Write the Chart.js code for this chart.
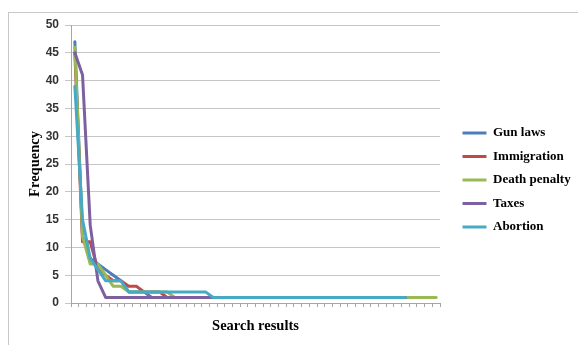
<!DOCTYPE html>
<html>
<head>
<meta charset="utf-8">
<script src="https://cdn.jsdelivr.net/npm/chart.js@4.4.0/dist/chart.umd.min.js"></script>
<style>
  html, body { margin: 0; padding: 0; background: #fff; overflow: hidden; }
  #wrap { position: relative; width: 578px; height: 345px; }
  #frame { position: absolute; left: 8px; top: 12px; width: 620px; height: 400px; border: 1px solid #c8c8c8; }
  canvas { position: absolute; left: 0; top: 0; }
</style>
</head>
<body>
<div id="wrap">
  <div id="frame"></div>
  <canvas id="chart" width="578" height="345"></canvas>
</div>
<script>
// search result rank (1..48), labels are not shown on the axis
const categories = [
  '1','2','3','4','5','6','7','8','9','10',
  '11','12','13','14','15','16','17','18','19','20',
  '21','22','23','24','25','26','27','28','29','30',
  '31','32','33','34','35','36','37','38','39','40',
  '41','42','43','44','45','46','47','48'
];

const gunLaws = [47, 12, 8, 7, 6, 5, 4, 2, 2, 2,
  1, 1, 1, 1, 1, 1, 1, 1, 1, 1,
  1, 1, 1, 1, 1, 1, 1, 1, 1, 1,
  1, 1, 1, 1, 1, 1, 1, 1, 1, 1,
  1, 1, 1, 1];

const immigration = [45, 11, 11, 6, 5, 4, 4, 3, 3, 2,
  2, 2, 1, 1, 1, 1, 1, 1, 1, 1,
  1, 1, 1, 1, 1, 1, 1, 1, 1, 1,
  1, 1, 1, 1, 1, 1, 1, 1, 1, 1,
  1, 1, 1, 1];

const deathPenalty = [46, 12, 7, 7, 5, 3, 3, 2, 2, 2,
  2, 2, 2, 1, 1, 1, 1, 1, 1, 1,
  1, 1, 1, 1, 1, 1, 1, 1, 1, 1,
  1, 1, 1, 1, 1, 1, 1, 1, 1, 1,
  1, 1, 1, 1, 1, 1, 1, 1];

const taxes = [45, 41, 14, 4, 1, 1, 1, 1, 1, 1,
  1, 1, 1, 1, 1, 1, 1, 1, 1, 1,
  1, 1, 1, 1, 1, 1, 1, 1, 1, 1,
  1, 1, 1, 1, 1, 1, 1, 1, 1, 1,
  1, 1, 1, 1];

const abortion = [39, 15, 8, 6, 4, 4, 4, 2, 2, 2,
  2, 2, 2, 2, 2, 2, 2, 2, 1, 1,
  1, 1, 1, 1, 1, 1, 1, 1, 1, 1,
  1, 1, 1, 1, 1, 1, 1, 1, 1, 1,
  1, 1, 1, 1];

const yTicks = { min: 0, max: 50, step: 5 };

const serif = 'Liberation Serif, Times New Roman, serif';
const sans = 'Liberation Sans, Arial, sans-serif';

// later series sit on top, like in the original sheet
const mkSet = (label, data, color, order) => ({
  label,
  data,
  borderColor: color,
  backgroundColor: color,
  pointBorderWidth: 3,
  order,
  fill: false,
});

new Chart(document.getElementById('chart'), {
  type: 'line',
  data: {
    labels: categories,
    datasets: [
      mkSet('Gun laws', gunLaws, '#4a7ebb', 5),
      mkSet('Immigration', immigration, '#be4b48', 4),
      mkSet('Death penalty', deathPenalty, '#98b954', 3),
      mkSet('Taxes', taxes, '#7d60a0', 2),
      mkSet('Abortion', abortion, '#46aac5', 1),
    ],
  },
  options: {
    responsive: false,
    animation: false,
    layout: { padding: { left: 26, top: 25, right: 0, bottom: 10 } },
    elements: {
      point: { radius: 0, hoverRadius: 0 },
      line: { borderWidth: 3, tension: 0, borderJoinStyle: 'round', borderCapStyle: 'round' },
    },
    plugins: {
      tooltip: { enabled: false },
      legend: {
        position: 'right',
        maxWidth: 126,
        labels: {
          usePointStyle: true,
          pointStyle: 'line',
          pointStyleWidth: 24,
          padding: 10.5,
          color: '#000',
          font: { family: serif, weight: 'bold', size: 13 },
          sort: (a, b) => a.datasetIndex - b.datasetIndex,
        },
      },
    },
    scales: {
      x: {
        offset: true,
        grid: { offset: true, drawOnChartArea: false, tickLength: 4, color: '#a6a6a6' },
        border: { color: '#a6a6a6' },
        ticks: { display: false },
        title: {
          display: true,
          text: 'Search results',
          color: '#000',
          padding: 0,
          font: { family: serif, weight: 'bold', size: 14.5 },
        },
        afterFit(s) { s.height = 32; },
      },
      y: {
        min: yTicks.min,
        max: yTicks.max,
        ticks: {
          stepSize: yTicks.step,
          padding: 6,
          color: '#333',
          font: { family: sans, weight: 'bold', size: 12 },
        },
        grid: { color: '#c6c6c6', tickLength: 6 },
        border: { color: '#a6a6a6' },
        title: {
          display: true,
          text: 'Frequency',
          color: '#000',
          padding: { top: 1 },
          font: { family: serif, weight: 'bold', size: 14.5 },
        },
        afterFit(s) { s.width = 45; },
      },
      // empty axis only keeps the gap between plot and legend
      gap: {
        position: 'right',
        display: true,
        grid: { display: false },
        border: { display: false },
        ticks: { display: false },
        afterFit(s) { s.width = 12; },
      },
    },
  },
});
</script>
</body>
</html>
